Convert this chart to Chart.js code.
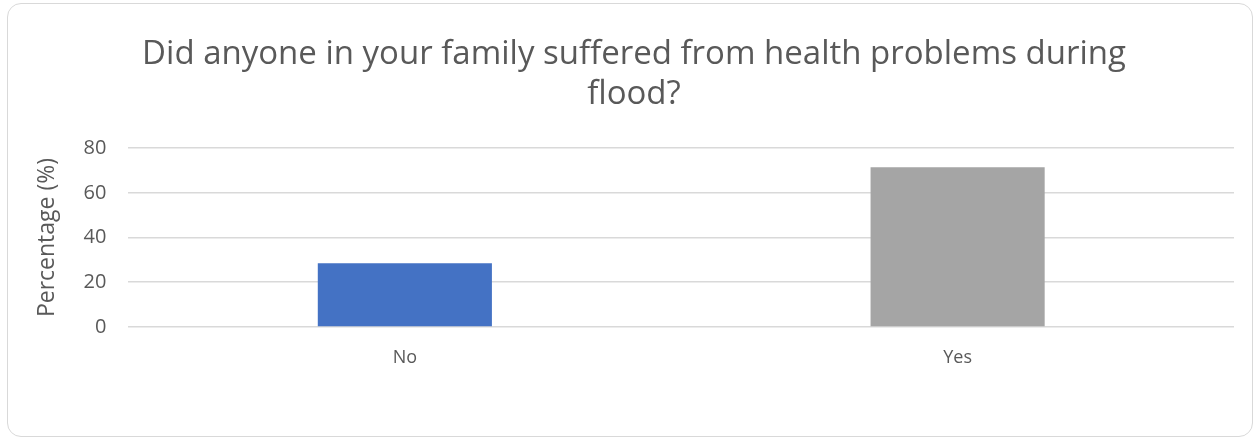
<!DOCTYPE html>
<html>
<head>
<meta charset="utf-8">
<script src="https://cdn.jsdelivr.net/npm/chart.js@4"></script>
<style>
  html, body { margin: 0; padding: 0; background: #fff; }
  #box {
    position: absolute; left: 7px; top: 3px; width: 1244px; height: 432px;
    border: 1.5px solid #d9d9d9; border-radius: 14px; background: #fff;
  }
  canvas { display: block; }
</style>
</head>
<body>
<div id="box"><canvas id="chart"></canvas></div>
<script>
// Data
const categories = ['No', 'Yes'];
const values = [28.5, 71.5];
const barColors = ['#4472c4', '#a5a5a5'];
const yTicks = [0, 20, 40, 60, 80];

const textColor = '#595959';

const ctx = document.getElementById('chart').getContext('2d');
new Chart(ctx, {
    type: 'bar',
    data: {
        labels: categories,
        datasets: [{
            data: values,
            backgroundColor: barColors,
            barPercentage: 0.315,
            categoryPercentage: 1
        }]
    },
    options: {
        responsive: true,
        maintainAspectRatio: false,
        animation: false,
        layout: {
            padding: { left: 26, right: 18, top: 31, bottom: 55.5 }
        },
        plugins: {
            legend: { display: false },
            tooltip: { enabled: false },
            title: {
                display: true,
                text: ['Did anyone in your family suffered from health problems during', 'flood?'],
                color: textColor,
                font: { family: "'Open Sans'", size: 33, weight: 'normal' },
                lineHeight: 1.22,
                padding: { top: 0, bottom: 34 }
            }
        },
        scales: {
            x: {
                grid: { display: false },
                border: { display: false },
                ticks: {
                    color: textColor,
                    font: { family: "'Open Sans'", size: 18 },
                    padding: 12
                }
            },
            y: {
                min: 0,
                max: 80,
                afterBuildTicks: function(scale) {
                    scale.ticks = yTicks.map(v => ({ value: v }));
                },
                grid: { color: '#d9d9d9', lineWidth: 1.5, drawTicks: false },
                border: { display: false },
                ticks: {
                    color: textColor,
                    font: { family: "'Open Sans'", size: 20 },
                    padding: 22
                },
                title: {
                    display: true,
                    text: 'Percentage (%)',
                    color: textColor,
                    font: { family: "'Open Sans'", size: 23 },
                    padding: { top: 0, bottom: 0 }
                }
            }
        }
    }
});
</script>
</body>
</html>
